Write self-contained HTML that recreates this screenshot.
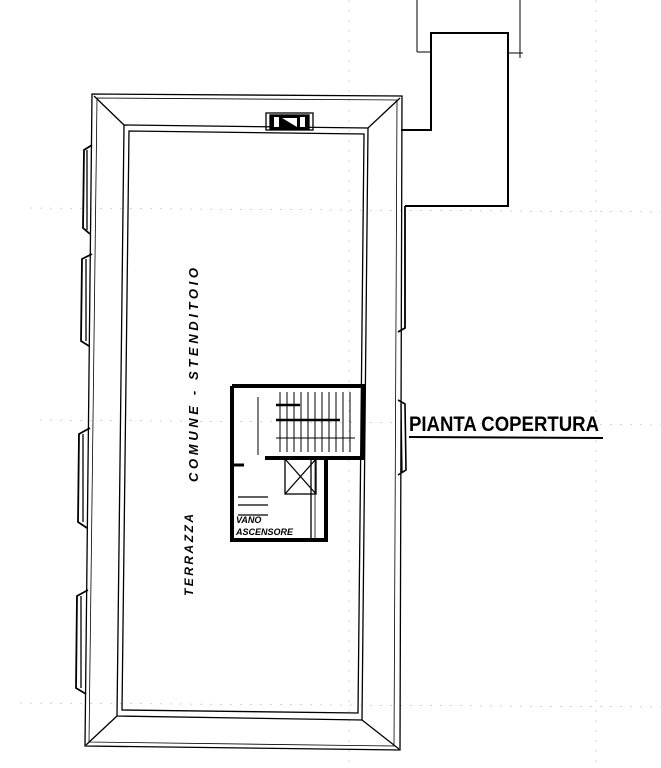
<!DOCTYPE html>
<html><head><style>
html,body{margin:0;padding:0;background:#fff;}
svg{display:block;}
text{font-family:"Liberation Sans",sans-serif;font-weight:bold;fill:#000;}
</style></head><body>
<svg width="661" height="768" viewBox="0 0 661 768" xmlns="http://www.w3.org/2000/svg">
<g fill="none" stroke="#000" stroke-width="1.3">
<!-- guide dashed lines -->
<g stroke="#aaa" stroke-width="0.5" stroke-dasharray="2 8">
<line x1="349" y1="0" x2="349" y2="768"/>
<line x1="596" y1="0" x2="596" y2="768"/>
<line x1="30" y1="208" x2="661" y2="212"/>
<line x1="40" y1="420" x2="661" y2="425"/>
<line x1="20" y1="703" x2="661" y2="707"/>
</g>
<!-- outer roof -->
<path d="M92 94 L402 96 L400 750 L85 746 Z"/>
<path d="M97 98 L397 100 L394 746 L89 742 Z" stroke-width="0.8"/>
<!-- inner -->
<path d="M124 125 L368 128 L362 720 L117 716 Z"/>
<path d="M129 131 L364 134 L358 713 L122 710 Z"/>
<!-- hips -->
<line x1="94" y1="96" x2="124" y2="125"/>
<line x1="400" y1="98" x2="368" y2="128"/>
<line x1="86" y1="745" x2="117" y2="716"/>
<line x1="399" y1="749" x2="362" y2="720"/>
<!-- chimney -->
<rect x="266" y="113" width="47" height="17"/>
<rect x="270" y="115" width="39" height="14" fill="#000"/>
<rect x="274" y="117" width="5" height="10" fill="#fff" stroke="none"/>
<rect x="300" y="117" width="5" height="10" fill="#fff" stroke="none"/>
<path d="M282 118 L297 118 L297 127 Z" fill="#fff" stroke="none"/>
<!-- left bay windows -->
<path d="M92 145 L84 150 L83 228 L90 234" stroke-width="1.8"/>
<path d="M87 150 L87 230"/>
<path d="M92 254 L82 259 L81 341 L89 346" stroke-width="1.8"/>
<path d="M86 259 L86 341"/>
<path d="M90 428 L79 434 L78 522 L87 528" stroke-width="1.8"/>
<path d="M83 434 L83 522"/>
<path d="M88 590 L77 596 L76 688 L86 694" stroke-width="1.8"/>
<path d="M81 596 L81 688"/>
<!-- right bays -->
<path d="M398 332 L405 328 L405 206" stroke-width="1.8"/>
<path d="M398 400 L405 404 L406 470 L398 475" stroke-width="1.6"/>
<path d="M401 404 L402 472"/>
<!-- annex -->
<path d="M405 206 L508 206 L508 33 L431 33 L431 130 L401 130" stroke-width="2"/>
<line x1="417" y1="0" x2="417" y2="52" stroke-width="1"/>
<line x1="417" y1="52" x2="431" y2="52" stroke-width="1"/>
<line x1="520" y1="0" x2="520" y2="58" stroke-width="1"/>
<line x1="508" y1="53" x2="523" y2="53" stroke-width="1"/>
<!-- stair core -->
<path d="M232 386 L363 386 L363 458 L265 458" stroke-width="4"/>
<path d="M232 386 L232 540 L326 540 L326 460" stroke-width="4"/>
<line x1="232" y1="465" x2="244" y2="465" stroke-width="3"/>
<line x1="311" y1="460" x2="311" y2="538"/>
<line x1="315" y1="460" x2="315" y2="538" stroke-width="0.8"/>
<line x1="238" y1="497" x2="268" y2="497"/>
<line x1="238" y1="505" x2="268" y2="505"/>
<line x1="238" y1="515" x2="268" y2="515"/>
<!-- lift -->
<rect x="285" y="459" width="31" height="35"/>
<line x1="285" y1="459" x2="316" y2="494"/>
<line x1="316" y1="459" x2="285" y2="494"/>
<!-- stairs -->
<g stroke-width="1">
<line x1="280" y1="392" x2="280" y2="452"/>
<line x1="287" y1="392" x2="287" y2="452"/>
<line x1="294" y1="392" x2="294" y2="452"/>
<line x1="301" y1="392" x2="301" y2="452"/>
<line x1="308" y1="392" x2="308" y2="452"/>
<line x1="315" y1="392" x2="315" y2="452"/>
<line x1="322" y1="392" x2="322" y2="452"/>
<line x1="329" y1="392" x2="329" y2="452"/>
<line x1="336" y1="392" x2="336" y2="452"/>
<line x1="343" y1="392" x2="343" y2="452"/>
<line x1="350" y1="392" x2="350" y2="452"/>
<line x1="276" y1="438" x2="355" y2="438"/>
<line x1="350" y1="405" x2="350" y2="440"/>
<line x1="258" y1="397" x2="258" y2="455"/>
</g>
<line x1="276" y1="405" x2="300" y2="405" stroke-width="2.5"/>
<line x1="276" y1="420" x2="340" y2="420" stroke-width="2.5"/>
</g>
<text x="236" y="523" font-size="9" font-style="italic">VANO</text>
<text x="236" y="535" font-size="9" font-style="italic">ASCENSORE</text>
<text transform="translate(193,596) rotate(-90)" font-size="12" font-style="italic" textLength="82" lengthAdjust="spacing">TERRAZZA</text>
<text transform="translate(198,482) rotate(-90)" font-size="13" font-style="italic" textLength="214" lengthAdjust="spacing">COMUNE - STENDITOIO</text>
<text x="409" y="431" font-size="21" font-weight="normal" style="font-family:'Liberation Sans Narrow','Liberation Sans',sans-serif" textLength="190" lengthAdjust="spacingAndGlyphs">PIANTA COPERTURA</text>
<line x1="409" y1="437" x2="603" y2="438" stroke="#000" stroke-width="2"/>
</svg>
</body></html>
